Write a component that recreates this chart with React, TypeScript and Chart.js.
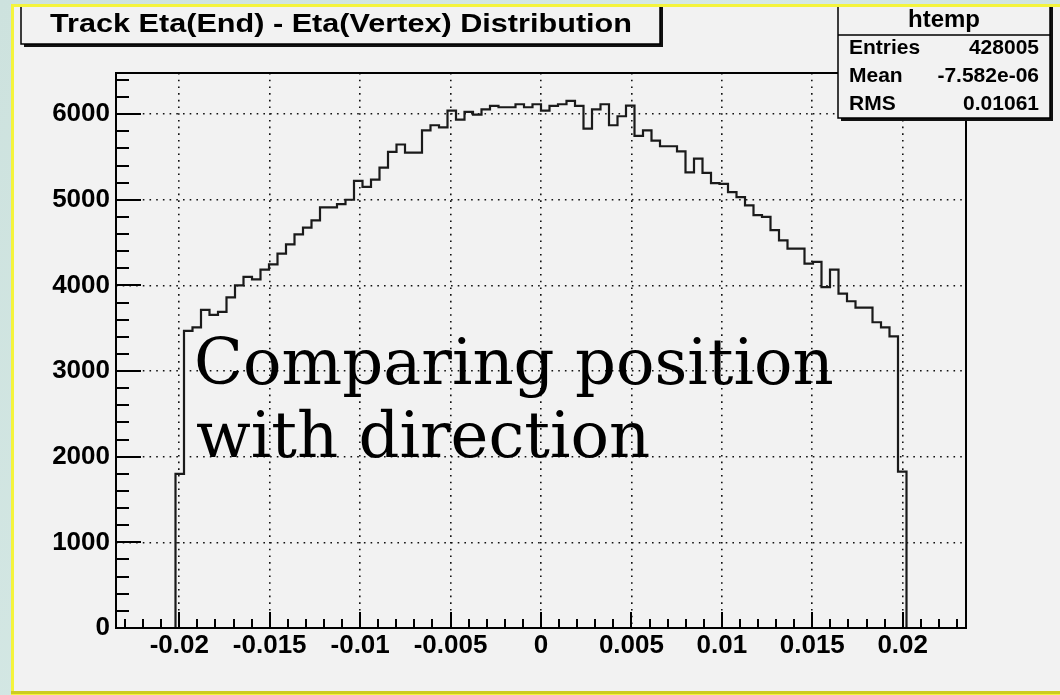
import React, { useEffect, useRef } from "react";
import { Chart, registerables } from "chart.js";

Chart.register(...registerables);

// ---- text content ----
const histTitle = "Track Eta(End) - Eta(Vertex) Distribution";
const statsName = "htemp";
const statLabels = ["Entries", "Mean", "RMS"];
const statValues = ["428005", "-7.582e-06", "0.01061"];
const overlayLines = ["Comparing position", "with direction"];

// ---- histogram binning ----
const xMin = -0.0235;
const xMax = 0.0235;
const nBins = 100;
const firstFilledBin = 7;

// bin contents of bins 7..92
const binCounts = [
  1800, 3470, 3510, 3715, 3655, 3690, 3860, 4000, 4100, 4070,
  4185, 4245, 4370, 4480, 4595, 4675, 4760, 4910, 4910, 4950,
  5000, 5220, 5150, 5235, 5375, 5560, 5645, 5550, 5550, 5810,
  5870, 5845, 6040, 5935, 6025, 5995, 6055, 6095, 6080, 6080,
  6115, 6080, 6115, 6040, 6095, 6115, 6155, 6095, 5830, 6055,
  6115, 5870, 5975, 6100, 5745, 5810, 5690, 5625, 5625, 5565,
  5320, 5480, 5315, 5195, 5185, 5090, 5030, 4935, 4820, 4800,
  4645, 4525, 4430, 4430, 4255, 4275, 3980, 4185, 3905, 3815,
  3740, 3740, 3570, 3510, 3405, 1825,
];

// ---- axes ----
const yMin = 0;
const yMax = 6480;
const xTickValues = [-0.02, -0.015, -0.01, -0.005, 0, 0.005, 0.01, 0.015, 0.02];
const xTickLabels = ["-0.02", "-0.015", "-0.01", "-0.005", "0", "0.005", "0.01", "0.015", "0.02"];
const yTickValues = [0, 1000, 2000, 3000, 4000, 5000, 6000];
const yTickLabels = ["0", "1000", "2000", "3000", "4000", "5000", "6000"];
const xMajorStep = 0.005;
const xMinorStep = 0.001;
const yMajorStep = 1000;
const yMinorStep = 200;

const FONT = "'Liberation Sans', Arial, Helvetica, sans-serif";

function buildPoints() {
  const w = (xMax - xMin) / nBins;
  const edge = (i: number) => xMin + i * w;
  const pts: { x: number; y: number }[] = [];
  pts.push({ x: edge(firstFilledBin), y: 0 });
  binCounts.forEach((v, i) => pts.push({ x: edge(firstFilledBin + i), y: v }));
  pts.push({ x: edge(firstFilledBin + binCounts.length), y: 0 });
  return pts;
}

const rootDecor = {
  id: "rootDecor",
  beforeDraw(chart: any) {
    const ctx = chart.ctx as CanvasRenderingContext2D;
    const W = chart.width;
    const H = chart.height;
    ctx.save();
    const g = ctx.createLinearGradient(0, 0, W, H);
    g.addColorStop(0, "#cde2de");
    g.addColorStop(0.5, "#d6e9e6");
    g.addColorStop(1, "#c9ddd8");
    ctx.fillStyle = g;
    ctx.fillRect(0, 0, W, H);
    ctx.fillStyle = "#f4f43c";
    ctx.fillRect(11, 4, W - 11, 691);
    ctx.fillStyle = "#cccc22";
    ctx.fillRect(11, 691, W - 11, 3);
    ctx.fillStyle = "#f2f2f2";
    ctx.fillRect(14, 7, W - 14, 684);
    ctx.restore();
  },
  afterDatasetsDraw(chart: any) {
    const ctx = chart.ctx as CanvasRenderingContext2D;
    const a = chart.chartArea;
    const xs = chart.scales.x;
    const ys = chart.scales.y;
    ctx.save();
    ctx.strokeStyle = "#000";
    ctx.lineWidth = 2;
    ctx.strokeRect(a.left, a.top, a.right - a.left, a.bottom - a.top);
    ctx.beginPath();
    const yr = Math.round(yMajorStep / yMinorStep);
    for (let k = 0; yMin + k * yMinorStep <= yMax; k++) {
      const py = Math.round(ys.getPixelForValue(yMin + k * yMinorStep));
      const len = k % yr === 0 ? 25 : 13;
      ctx.moveTo(a.left, py);
      ctx.lineTo(a.left + len, py);
    }
    const k0 = Math.ceil(xMin / xMinorStep - 1e-9);
    const k1 = Math.floor(xMax / xMinorStep + 1e-9);
    const xr = Math.round(xMajorStep / xMinorStep);
    for (let k = k0; k <= k1; k++) {
      const px = Math.round(xs.getPixelForValue(k * xMinorStep));
      const len = k % xr === 0 ? 16 : 9;
      ctx.moveTo(px, a.bottom);
      ctx.lineTo(px, a.bottom - len);
    }
    ctx.stroke();
    ctx.restore();
  },
  afterDraw(chart: any) {
    const ctx = chart.ctx as CanvasRenderingContext2D;
    ctx.save();
    // ---- title box ----
    const tb = { l: 21, r: 660, t: 7, b: 44 };
    ctx.fillStyle = "#f2f2f2";
    ctx.fillRect(tb.l, tb.t, tb.r - tb.l, tb.b - tb.t);
    ctx.fillStyle = "#111";
    ctx.fillRect(tb.l + 3, tb.b, tb.r - tb.l, 3);
    ctx.fillRect(tb.r, tb.t, 3, tb.b - tb.t + 3);
    ctx.strokeStyle = "#000";
    ctx.lineWidth = 1.5;
    ctx.beginPath();
    ctx.moveTo(tb.l, tb.t);
    ctx.lineTo(tb.l, tb.b);
    ctx.lineTo(tb.r, tb.b);
    ctx.lineTo(tb.r, tb.t);
    ctx.stroke();
    ctx.fillStyle = "#000";
    ctx.font = `bold 26px ${FONT}`;
    ctx.textAlign = "center";
    ctx.textBaseline = "alphabetic";
    const tw = ctx.measureText(histTitle).width;
    ctx.save();
    ctx.translate(341, 32);
    ctx.scale(582 / tw, 1);
    ctx.fillText(histTitle, 0, 0);
    ctx.restore();

    // ---- stats box ----
    const sb = { l: 838, r: 1050, t: 7, b: 118 };
    ctx.fillStyle = "#f2f2f2";
    ctx.fillRect(sb.l, sb.t, sb.r - sb.l, sb.b - sb.t);
    ctx.fillStyle = "#111";
    ctx.fillRect(sb.l + 3, sb.b, sb.r - sb.l, 3);
    ctx.fillRect(sb.r, sb.t, 3, sb.b - sb.t + 3);
    ctx.beginPath();
    ctx.moveTo(sb.l, sb.t);
    ctx.lineTo(sb.l, sb.b);
    ctx.lineTo(sb.r, sb.b);
    ctx.lineTo(sb.r, sb.t);
    ctx.moveTo(sb.l, 35);
    ctx.lineTo(sb.r, 35);
    ctx.stroke();
    ctx.fillStyle = "#000";
    ctx.font = `bold 24px ${FONT}`;
    ctx.textAlign = "center";
    ctx.fillText(statsName, (sb.l + sb.r) / 2, 27);
    ctx.font = `bold 21px ${FONT}`;
    const baselines = [54, 82, 110];
    statLabels.forEach((lab, i) => {
      ctx.textAlign = "left";
      ctx.fillText(lab, 849, baselines[i]);
      ctx.textAlign = "right";
      ctx.fillText(statValues[i], 1039, baselines[i]);
    });

    // ---- overlay annotation ----
    ctx.font = `64px 'DejaVu Serif', serif`;
    ctx.textAlign = "left";
    ctx.fillStyle = "#000";
    ctx.fillText(overlayLines[0], 194, 384);
    ctx.fillText(overlayLines[1], 196, 457);
    ctx.restore();
  },
};

export default function App() {
  const ref = useRef<HTMLCanvasElement | null>(null);
  useEffect(() => {
    if (!ref.current) return;
    const chart = new Chart(ref.current, {
      type: "line",
      data: {
        datasets: [
          {
            data: buildPoints(),
            stepped: true,
            borderColor: "#1a1a1a",
            borderWidth: 2.2,
            pointRadius: 0,
            fill: false,
            tension: 0,
          },
        ],
      },
      options: {
        animation: false,
        responsive: false,
        devicePixelRatio: 1,
        layout: { padding: { left: 0, top: 73, right: 94, bottom: 0 } },
        plugins: {
          legend: { display: false },
          tooltip: { enabled: false },
          title: { display: false },
        },
        scales: {
          x: {
            type: "linear",
            min: xMin,
            max: xMax,
            border: { display: false, dash: [1.6, 5.1] },
            grid: { color: "#111", lineWidth: 1.6, drawTicks: false },
            afterBuildTicks: (s: any) => {
              s.ticks = xTickValues.map((v) => ({ value: v }));
            },
            ticks: {
              autoSkip: false,
              maxRotation: 0,
              padding: 2,
              color: "#000",
              font: { family: FONT, size: 26, weight: "bold" },
              callback: (_v: any, i: number) => xTickLabels[i],
            },
            afterFit: (s: any) => {
              s.height = 67;
            },
          },
          y: {
            type: "linear",
            min: yMin,
            max: yMax,
            border: { display: false, dash: [1.6, 5.1] },
            grid: { color: "#111", lineWidth: 1.6, drawTicks: false },
            afterBuildTicks: (s: any) => {
              s.ticks = yTickValues.map((v) => ({ value: v }));
            },
            ticks: {
              autoSkip: false,
              padding: 6,
              color: "#000",
              font: { family: FONT, size: 26, weight: "bold" },
              callback: (_v: any, i: number) => yTickLabels[i],
            },
            afterFit: (s: any) => {
              s.width = 116;
            },
          },
        },
      },
      plugins: [rootDecor],
    } as any);
    return () => chart.destroy();
  }, []);
  return (
    <div style={{ position: "fixed", left: 0, top: 0, width: 1060, height: 695 }}>
      <canvas ref={ref} width={1060} height={695} style={{ display: "block" }} />
    </div>
  );
}
